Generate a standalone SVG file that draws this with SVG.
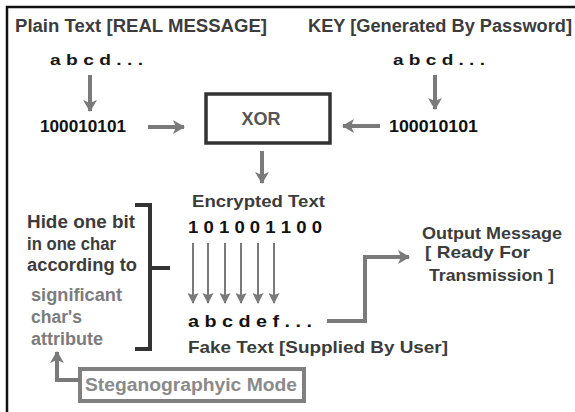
<svg xmlns="http://www.w3.org/2000/svg" width="575" height="412" viewBox="0 0 575 412">
  <style>
    text { font-family: "Liberation Sans", Arial, sans-serif; font-weight: bold; }
    .title { font-size: 18px; fill: #3c3c3c; }
    .chars { font-size: 15px; fill: #161616; }
    .bits { font-size: 17px; fill: #111111; }
    .label { font-size: 17px; fill: #3c3c3c; }
    .side { font-size: 18px; fill: #3c3c3c; }
    .muted { font-size: 18px; fill: #7c7c7c; }
    .arrow { stroke: #7a7a7a; stroke-width: 4; fill: none; }
    .thin { stroke: #7a7a7a; stroke-width: 2; fill: none; }
    .dark { stroke: #333333; fill: none; }
  </style>
  <defs>
    <marker id="head" markerUnits="userSpaceOnUse" viewBox="0 0 12 14" refX="11" refY="7" markerWidth="12" markerHeight="14" orient="auto">
      <path d="M0,0 L12,7 L0,14 L3,7 Z" fill="#7a7a7a"/>
    </marker>
    <marker id="headSmall" markerUnits="userSpaceOnUse" viewBox="0 0 11 11" refX="10" refY="5.5" markerWidth="11" markerHeight="11" orient="auto">
      <path d="M0,0 L11,5.5 L0,11 L2,5.5 Z" fill="#7a7a7a"/>
    </marker>
  </defs>

  <rect width="575" height="412" fill="#ffffff"/>

  <!-- outer frame (top and left edges) -->
  <path d="M7,412 L7,7 L575,7" stroke="#111111" stroke-width="2.5" fill="none"/>

  <g id="plain-text">
    <text class="title" x="15" y="32" textLength="252" lengthAdjust="spacingAndGlyphs">Plain Text [REAL MESSAGE]</text>
    <text class="chars" x="50" y="65" textLength="93" lengthAdjust="spacingAndGlyphs">a b c d . . .</text>
    <text class="bits" x="40" y="132" textLength="86" lengthAdjust="spacingAndGlyphs">100010101</text>
  </g>

  <g id="key">
    <text class="title" x="308" y="32" textLength="264" lengthAdjust="spacingAndGlyphs">KEY [Generated By Password]</text>
    <text class="chars" x="393" y="65" textLength="92" lengthAdjust="spacingAndGlyphs">a b c d . . .</text>
    <text class="bits" x="389" y="132" textLength="89" lengthAdjust="spacingAndGlyphs">100010101</text>
  </g>

  <g id="xor">
    <rect x="206" y="94" width="124" height="49" stroke="#333333" stroke-width="3.5" fill="#ffffff"/>
    <text x="261" y="125" font-size="18" fill="#555555" text-anchor="middle">XOR</text>
  </g>

  <g id="encrypted">
    <text class="label" x="192" y="207" textLength="133" lengthAdjust="spacingAndGlyphs">Encrypted Text</text>
    <text class="bits" x="188" y="233" textLength="134" lengthAdjust="spacingAndGlyphs">1 0 1 0 0 1 1 0 0</text>
  </g>

  <g id="fake-text">
    <text class="bits" x="188" y="327" textLength="124" lengthAdjust="spacingAndGlyphs">a b c d e f . . .</text>
    <text class="label" x="188" y="353" textLength="260" lengthAdjust="spacingAndGlyphs">Fake Text [Supplied By User]</text>
  </g>

  <g id="hide-rule">
    <text class="side" x="27" y="228" textLength="108" lengthAdjust="spacingAndGlyphs">Hide one bit</text>
    <text class="side" x="27" y="250" textLength="89" lengthAdjust="spacingAndGlyphs">in one char</text>
    <text class="side" x="27" y="271" textLength="110" lengthAdjust="spacingAndGlyphs">according to</text>
    <text class="muted" x="31" y="301" textLength="91" lengthAdjust="spacingAndGlyphs">significant</text>
    <text class="muted" x="31" y="323" textLength="51" lengthAdjust="spacingAndGlyphs">char's</text>
    <text class="muted" x="31" y="345" textLength="72" lengthAdjust="spacingAndGlyphs">attribute</text>
    <path class="dark" stroke-width="4" d="M135,205 L150,205 L150,349 L135,349 M150,268 L170,268"/>
  </g>

  <g id="output">
    <text class="label" x="422" y="239" textLength="140" lengthAdjust="spacingAndGlyphs">Output Message</text>
    <text class="label" x="425" y="258" textLength="105" lengthAdjust="spacingAndGlyphs">[ Ready For</text>
    <text class="label" x="429" y="281" textLength="125" lengthAdjust="spacingAndGlyphs">Transmission ]</text>
  </g>

  <g id="stego-mode">
    <rect x="80" y="369" width="224" height="32" stroke="#808080" stroke-width="4" fill="#ffffff"/>
    <text x="85" y="391" font-size="18" fill="#8a8a8a" textLength="212" lengthAdjust="spacingAndGlyphs">Steganographyic Mode</text>
  </g>

  <g id="connectors">
    <line class="arrow" x1="90" y1="75" x2="90" y2="111" marker-end="url(#head)"/>
    <line class="arrow" x1="435" y1="75" x2="435" y2="109" marker-end="url(#head)"/>
    <line class="arrow" x1="148" y1="127" x2="184" y2="127" marker-end="url(#head)"/>
    <line class="arrow" x1="380" y1="126" x2="343" y2="126" marker-end="url(#head)"/>
    <line class="arrow" x1="262" y1="151" x2="262" y2="183" marker-end="url(#head)"/>
    <line class="thin" x1="193" y1="243" x2="193" y2="303" marker-end="url(#headSmall)"/>
    <line class="thin" x1="208" y1="243" x2="208" y2="303" marker-end="url(#headSmall)"/>
    <line class="thin" x1="225" y1="243" x2="225" y2="303" marker-end="url(#headSmall)"/>
    <line class="thin" x1="241" y1="243" x2="241" y2="303" marker-end="url(#headSmall)"/>
    <line class="thin" x1="258" y1="243" x2="258" y2="303" marker-end="url(#headSmall)"/>
    <line class="thin" x1="274" y1="243" x2="274" y2="303" marker-end="url(#headSmall)"/>
    <path class="arrow" d="M327,321 L365,321 L365,257 L409,257" marker-end="url(#head)"/>
    <path class="arrow" d="M80,380 L57,380 L57,352" marker-end="url(#head)"/>
  </g>
</svg>
